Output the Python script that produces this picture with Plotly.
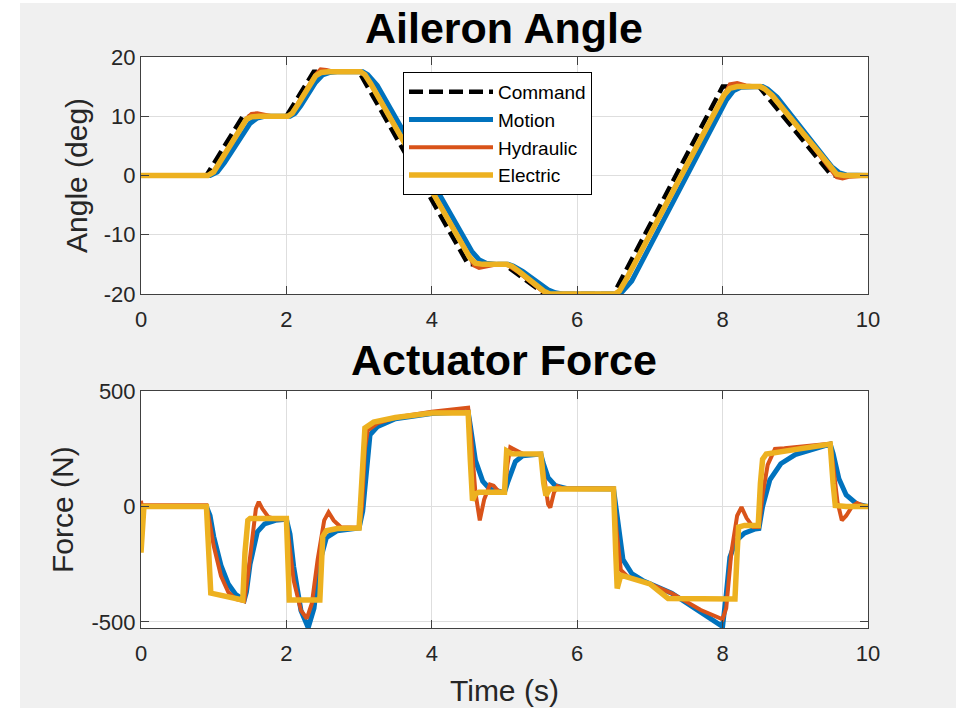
import plotly.graph_objects as go
from plotly.subplots import make_subplots

# ---------------- Data: Aileron Angle (deg) ----------------
t_cmd = [0, 0.9, 1.4, 2.0, 2.375, 3.0, 4.5, 5.0, 5.55, 6.5, 8.0, 8.5, 9.5, 10]
ang_cmd = [0, 0, 10, 10, 17.5, 17.5, -15, -15, -20, -20, 15, 15, 0, 0]

t_mot = [0, 0.95, 1.05, 1.15, 1.5, 1.6, 1.7, 1.85, 2.05, 2.12, 2.2, 2.4, 2.5, 2.6, 2.7,
         3.05, 3.12, 3.25, 4.55, 4.65, 4.75, 4.9, 5.05, 5.12, 5.25, 5.6, 5.7, 5.8,
         6.55, 6.62, 6.75, 8.05, 8.15, 8.25, 8.35, 8.55, 8.62, 8.75, 9.5, 9.6, 9.7, 10]
ang_mot = [0, 0, 0.6, 2.2, 8.8, 9.7, 10, 10, 10, 10.5, 11.8, 15.7, 17, 17.4, 17.5,
           17.5, 17.0, 15.2, -12.8, -14.2, -14.8, -15, -15, -15.3, -16.2, -19.3, -19.8, -20,
           -20, -19.6, -17.8, 12.7, 14.3, 14.9, 15, 15, 14.6, 13.2, 1.5, 0.5, 0.1, 0]

t_hyd = [0, 0.92, 1.0, 1.1, 1.45, 1.52, 1.6, 1.7, 1.8, 2.02, 2.08, 2.15, 2.4, 2.47, 2.55, 2.65,
         3.02, 3.08, 3.15, 4.52, 4.58, 4.65, 4.75, 4.9, 5.03, 5.1, 5.2, 5.55, 5.62, 5.7, 5.8,
         6.52, 6.58, 6.68, 8.02, 8.1, 8.2, 8.32, 8.52, 8.58, 8.7, 9.5, 9.57, 9.65, 9.75, 10]
ang_hyd = [0, 0, 0.7, 2.6, 9.6, 10.4, 10.5, 10.2, 10, 10, 10.6, 12.0, 17.0, 17.9, 17.8, 17.5,
           17.5, 17.0, 15.6, -13.7, -15.2, -15.6, -15.3, -15, -15, -15.5, -16.4, -19.8, -20.5, -20.3, -20,
           -20, -19.4, -17.4, 13.6, 15.4, 15.6, 15.2, 15, 14.6, 13.4, 1.0, -0.3, -0.5, -0.2, 0]

t_ele = [0, 0.92, 1.0, 1.1, 1.45, 1.52, 1.62, 2.02, 2.08, 2.16, 2.4, 2.48, 2.58,
         3.02, 3.08, 3.16, 4.52, 4.6, 4.7, 5.03, 5.1, 5.2, 5.55, 5.62, 5.72,
         6.52, 6.58, 6.68, 8.02, 8.1, 8.2, 8.52, 8.58, 8.68, 9.5, 9.57, 9.67, 10]
ang_ele = [0, 0, 0.6, 2.6, 9.5, 9.9, 10, 10, 10.5, 12, 16.8, 17.4, 17.5,
           17.5, 17.0, 15.5, -13.8, -14.8, -15, -15, -15.3, -16.2, -19.6, -19.95, -20,
           -20, -19.5, -17.4, 13.6, 14.7, 15, 15, 14.6, 13.5, 1.0, 0.2, 0, 0]

# ---------------- Data: Actuator Force (N) ----------------
tf_mot = [0, 0.03, 0.9, 0.95, 1.0, 1.1, 1.2, 1.3, 1.42, 1.45, 1.5, 1.6, 1.7, 1.85, 2.0,
          2.05, 2.1, 2.2, 2.3, 2.38, 2.45, 2.55, 2.7, 2.9, 3.0, 3.05, 3.1, 3.15, 3.25, 3.5,
          4.0, 4.5, 4.53, 4.6, 4.7, 4.8, 4.95, 5.0, 5.05, 5.15, 5.25, 5.4, 5.5, 5.53, 5.6,
          5.7, 5.85, 6.5, 6.55, 6.63, 6.75, 6.9, 7.3, 7.7, 8.0, 8.05, 8.1, 8.18, 8.3, 8.45,
          8.5, 8.55, 8.65, 8.8, 9.0, 9.48, 9.52, 9.6, 9.7, 9.85, 10]
f_mot = [-150, 0, 0, -40, -130, -255, -335, -380, -405, -370, -250, -110, -75, -60, -55,
         -120, -260, -450, -525, -440, -250, -135, -105, -95, -93, -20, 150, 310, 345, 380,
         403, 410, 350, 200, 110, 75, 64, 62, 110, 195, 220, 227, 227, 190, 125,
         90, 78, 76, -50, -230, -290, -320, -375, -460, -520, -380, -220, -150, -115, -97,
         -95, 0, 115, 185, 225, 270, 230, 120, 50, 10, 0]

tf_hyd = [0, 0.02, 0.05, 0.9, 0.95, 1.0, 1.1, 1.2, 1.3, 1.42, 1.47, 1.52, 1.58, 1.62, 1.67,
          1.75, 1.85, 2.0, 2.04, 2.1, 2.2, 2.28, 2.35, 2.43, 2.52, 2.58, 2.65, 2.75, 3.0,
          3.04, 3.08, 3.12, 3.25, 3.5, 4.0, 4.5, 4.54, 4.6, 4.66, 4.72, 4.8, 4.85, 4.92, 5.0,
          5.04, 5.08, 5.15, 5.25, 5.5, 5.54, 5.6, 5.63, 5.68, 5.73, 5.8, 6.5, 6.54, 6.6,
          6.7, 7.0, 7.3, 7.7, 8.0, 8.05, 8.12, 8.2, 8.26, 8.33, 8.42, 8.5, 8.55, 8.62, 8.72,
          8.85, 9.48, 9.52, 9.58, 9.64, 9.7, 9.78, 9.85, 9.92, 10]
f_hyd = [25, -30, 5, 5, -80, -170, -300, -370, -400, -410, -300, -150, -10, 20, -10,
         -45, -55, -55, -150, -320, -450, -485, -420, -230, -60, -25, -60, -90, -92,
         0, 250, 330, 360, 385, 410, 428, 300, 60, -60, 30, 95, 90, 65, 62,
         180, 256, 245, 228, 226, 130, 10, -5, 60, 88, 78, 78, -100, -275,
         -305, -335, -376, -448, -488, -440, -200, -40, -3, -50, -89, -88, 50, 180, 249,
         252, 272, 180, 20, -60, -40, 0, 15, 5, 0]

tf_ele = [0, 0.02, 0.04, 0.9, 0.93, 0.96, 1.4, 1.43, 1.47, 1.5, 2.0, 2.02, 2.04, 2.46,
          2.5, 2.55, 2.7, 3.0, 3.04, 3.08, 3.2, 3.5, 4.0, 4.5, 4.53, 4.56, 4.6, 4.65, 5.0,
          5.03, 5.1, 5.5, 5.54, 5.57, 5.62, 6.5, 6.53, 6.55, 6.6, 7.0, 7.25, 8.17, 8.2,
          8.22, 8.3, 8.49, 8.52, 8.55, 8.6, 9.48, 9.52, 9.55, 9.7, 10]
f_ele = [-200, -40, 0, 0, -200, -375, -405, -200, -60, -52, -52, -250, -405, -405,
         -130, -105, -95, -93, 150, 340, 365, 385, 405, 406, 200, 26, 55, 62, 62,
         241, 228, 227, 100, 47, 76, 76, -200, -355, -297, -335, -398, -400, -200,
         -89, -82, -82, 100, 205, 227, 270, 100, 4, 0, 0]

x_ticks = [0, 2, 4, 6, 8, 10]
ang_ticks = [-20, -10, 0, 10, 20]
force_ticks = [-500, 0, 500]

# ---------------- Styles ----------------
C_CMD = "#000000"
C_MOT = "#0072BD"
C_HYD = "#D95319"
C_ELE = "#EDB120"
FONT = "Liberation Sans, Arial, sans-serif"
TXT = "#262626"

fig = make_subplots(rows=2, cols=1, vertical_spacing=0.0)

fig.add_trace(go.Scatter(x=t_cmd, y=ang_cmd, mode="lines", name="Command",
                         line=dict(color=C_CMD, width=4.5, dash="14px,6px")), row=1, col=1)
fig.add_trace(go.Scatter(x=t_mot, y=ang_mot, mode="lines", name="Motion",
                         line=dict(color=C_MOT, width=5)), row=1, col=1)
fig.add_trace(go.Scatter(x=t_hyd, y=ang_hyd, mode="lines", name="Hydraulic",
                         line=dict(color=C_HYD, width=4)), row=1, col=1)
fig.add_trace(go.Scatter(x=t_ele, y=ang_ele, mode="lines", name="Electric",
                         line=dict(color=C_ELE, width=5.5)), row=1, col=1)

fig.add_trace(go.Scatter(x=tf_mot, y=f_mot, mode="lines", showlegend=False,
                         line=dict(color=C_MOT, width=5)), row=2, col=1)
fig.add_trace(go.Scatter(x=tf_hyd, y=f_hyd, mode="lines", showlegend=False,
                         line=dict(color=C_HYD, width=4)), row=2, col=1)
fig.add_trace(go.Scatter(x=tf_ele, y=f_ele, mode="lines", showlegend=False,
                         line=dict(color=C_ELE, width=5.5)), row=2, col=1)

axis_common = dict(showline=True, linecolor="#404040", linewidth=1, mirror="ticks",
                   ticks="inside", ticklen=8, tickcolor="#404040", tickwidth=1,
                   showgrid=True, gridcolor="#dedede", gridwidth=1, zeroline=False,
                   tickfont=dict(family=FONT, size=22, color=TXT))

H0, H1 = 57, 628  # plot area top / bottom in px
PH = H1 - H0
top_dom = [(H1 - 294) / PH, 1.0]
bot_dom = [0.0, (H1 - 391) / PH]

fig.update_xaxes(range=[0, 10], tickvals=x_ticks, ticktext=[str(v) for v in x_ticks],
                 ticklabelstandoff=6, **axis_common)
fig.update_yaxes(**axis_common)
fig.update_yaxes(range=[-20, 20], tickvals=ang_ticks, ticktext=[str(v) for v in ang_ticks],
                 domain=top_dom, row=1, col=1)
fig.update_yaxes(range=[-526, 500], tickvals=force_ticks, ticktext=[str(v) for v in force_ticks],
                 domain=bot_dom, row=2, col=1)

PW = 868 - 141


def px_x(px):
    return (px - 141) / PW


def px_y(py):
    return (H1 - py) / PH


annots = [
    dict(text="<b>Aileron Angle</b>", x=px_x(504), y=px_y(28), font=dict(size=43, family=FONT, color="#000000")),
    dict(text="<b>Actuator Force</b>", x=px_x(504), y=px_y(360), font=dict(size=43, family=FONT, color="#000000")),
    dict(text="Angle (deg)", x=px_x(76), y=px_y(176), textangle=-90, font=dict(size=30, family=FONT, color=TXT)),
    dict(text="Force (N)", x=px_x(62), y=px_y(510), textangle=-90, font=dict(size=30, family=FONT, color=TXT)),
    dict(text="Time (s)", x=px_x(504), y=px_y(690), font=dict(size=30, family=FONT, color=TXT)),
]
for a in annots:
    fig.add_annotation(xref="paper", yref="paper", showarrow=False,
                       xanchor="center", yanchor="middle", **a)

# white border strips of the captured window
fig.add_shape(type="rect", xref="paper", yref="paper", x0=px_x(0), x1=px_x(20), y0=px_y(708), y1=px_y(0),
              fillcolor="#ffffff", line=dict(width=0), layer="above")
fig.add_shape(type="rect", xref="paper", yref="paper", x0=px_x(0), x1=px_x(956), y0=px_y(3), y1=px_y(0),
              fillcolor="#ffffff", line=dict(width=0), layer="above")

fig.update_layout(
    width=956, height=708,
    margin=dict(l=141, r=956 - 868, t=H0, b=708 - H1),
    paper_bgcolor="#f0f0f0", plot_bgcolor="#ffffff",
    font=dict(family=FONT, color=TXT),
    legend=dict(x=px_x(403), y=px_y(72), xanchor="left", yanchor="top",
                bgcolor="#ffffff", bordercolor="#000000", borderwidth=1,
                font=dict(family=FONT, size=19, color="#000000"),
                itemwidth=84, tracegroupgap=0),
)

fig.write_html("out.html")
